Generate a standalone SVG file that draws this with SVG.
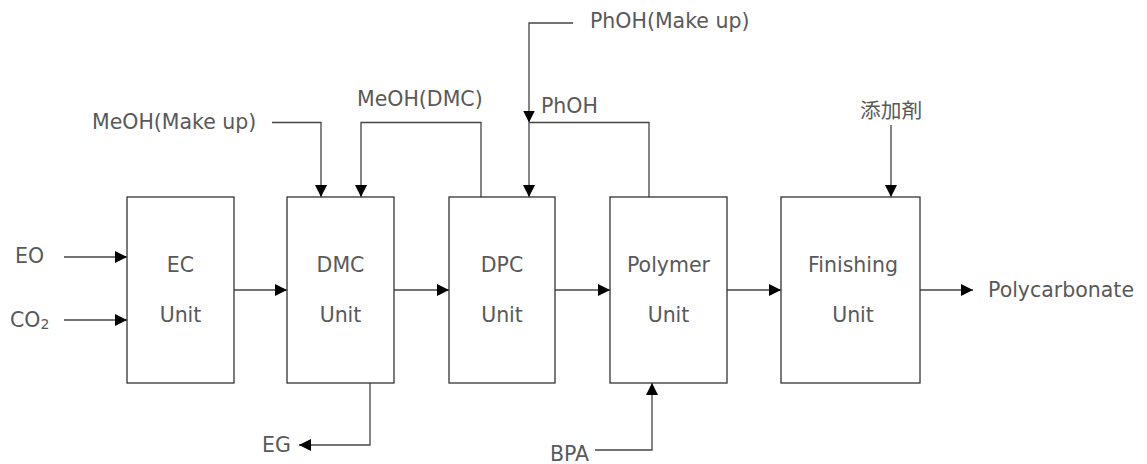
<svg xmlns="http://www.w3.org/2000/svg" width="1147" height="464" viewBox="0 0 1147 464">
<defs>
<marker id="ah" viewBox="0 0 12 12" refX="12" refY="6" markerWidth="12" markerHeight="12" markerUnits="userSpaceOnUse" orient="auto">
<path d="M0,0 L12,6 L0,12 Z" fill="#000"/>
</marker>
<style>
.box{fill:#fff;stroke:#333;stroke-width:1.3}
.t{font-family:"DejaVu Sans",Verdana,sans-serif;font-size:20.5px;fill:#595959}
.c{text-anchor:middle}
.ln{fill:none;stroke:#444;stroke-width:1.3}
.cjk{font-family:"Noto Sans CJK JP","DejaVu Sans",sans-serif;font-size:20.7px;fill:#595959}
</style>
</defs>
<rect width="1147" height="464" fill="#fff"/>
<g id="connectors">
<line class="ln" x1="64" y1="257" x2="127" y2="257" marker-end="url(#ah)"/>
<line class="ln" x1="64" y1="320" x2="127" y2="320" marker-end="url(#ah)"/>
<line class="ln" x1="234" y1="290" x2="287" y2="290" marker-end="url(#ah)"/>
<line class="ln" x1="394" y1="290" x2="449" y2="290" marker-end="url(#ah)"/>
<line class="ln" x1="555" y1="290" x2="610" y2="290" marker-end="url(#ah)"/>
<line class="ln" x1="727" y1="290" x2="781" y2="290" marker-end="url(#ah)"/>
<line class="ln" x1="920" y1="290" x2="973" y2="290" marker-end="url(#ah)"/>
<polyline class="ln" points="272,122.5 321,122.5 321,197" marker-end="url(#ah)"/>
<polyline class="ln" points="481,197 481,122.5 361,122.5 361,197" marker-end="url(#ah)"/>
<polyline class="ln" points="573,23 529,23 529,122.5" marker-end="url(#ah)"/>
<line class="ln" x1="529" y1="122.5" x2="529" y2="197" marker-end="url(#ah)"/>
<polyline class="ln" points="649,197 649,122.5 529,122.5"/>
<line class="ln" x1="891" y1="125" x2="891" y2="197" marker-end="url(#ah)"/>
<polyline class="ln" points="370,383 370,445 299,445" marker-end="url(#ah)"/>
<polyline class="ln" points="595,450 652,450 652,383" marker-end="url(#ah)"/>
</g>
<g id="ec-unit">
<rect class="box" x="127" y="197" width="107" height="186"/>
<text class="t c" x="180.5" y="272">EC</text>
<text class="t c" x="180.5" y="322">Unit</text>
</g>
<g id="dmc-unit">
<rect class="box" x="287" y="197" width="107" height="186"/>
<text class="t c" x="340.5" y="272">DMC</text>
<text class="t c" x="340.5" y="322">Unit</text>
</g>
<g id="dpc-unit">
<rect class="box" x="449" y="197" width="106" height="186"/>
<text class="t c" x="502" y="272">DPC</text>
<text class="t c" x="502" y="322">Unit</text>
</g>
<g id="polymer-unit">
<rect class="box" x="610" y="197" width="117" height="186"/>
<text class="t c" x="668.5" y="272">Polymer</text>
<text class="t c" x="668.5" y="322">Unit</text>
</g>
<g id="finishing-unit">
<rect class="box" x="781" y="197" width="139" height="186"/>
<text class="t c" x="853" y="272">Finishing</text>
<text class="t c" x="853" y="322">Unit</text>
</g>
<g id="labels">
<text class="t" x="15" y="263">EO</text>
<text class="t" x="10" y="327">CO<tspan font-size="14" dy="2">2</tspan></text>
<text class="t" x="92" y="129">MeOH(Make up)</text>
<text class="t" x="357" y="106">MeOH(DMC)</text>
<text class="t" x="590" y="28">PhOH(Make up)</text>
<text class="t" x="541" y="113">PhOH</text>
<text class="cjk" x="860" y="118">添加剤</text>
<text class="t" x="988" y="297">Polycarbonate</text>
<text class="t" x="262" y="452">EG</text>
<text class="t" x="550" y="461">BPA</text>
</g>
</svg>
